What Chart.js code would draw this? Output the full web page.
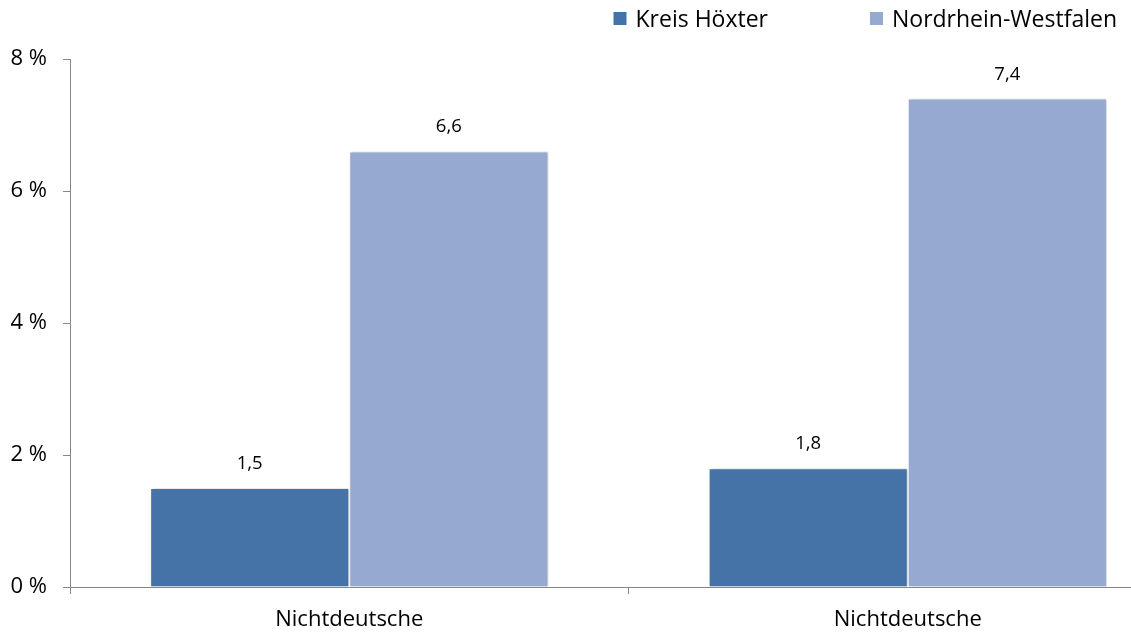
<!DOCTYPE html>
<html>
<head>
<meta charset="utf-8">
<script src="https://cdn.jsdelivr.net/npm/chart.js@4"></script>
<style>
  html, body { margin: 0; padding: 0; background: #fff; overflow: hidden; }
  #wrap { width: 1131px; height: 632px; overflow: hidden; }
</style>
</head>
<body>
<div id="wrap"><canvas id="c" width="1187" height="632"></canvas></div>
<script>
const categories = ['Nichtdeutsche', 'Nichtdeutsche'];
const seriesNames = ['Kreis Höxter', 'Nordrhein-Westfalen'];
const kreisHoexter = [1.5, 1.8];
const nrw = [6.6, 7.4];
const yTicks = [0, 2, 4, 6, 8];

const FONT = '"Open Sans"';
const colors = ['#4573a7', '#95a9d1'];

const shadowPlugin = {
  id: 'barShadow',
  beforeDatasetsDraw(chart) {
    const ctx = chart.ctx;
    ctx.save();
    ctx.shadowColor = 'rgba(0,0,0,0.22)';
    ctx.shadowBlur = 4;
    ctx.shadowOffsetX = 2;
    ctx.shadowOffsetY = 0;
  },
  afterDatasetsDraw(chart) {
    chart.ctx.restore();
  }
};

const labelPlugin = {
  id: 'valueLabels',
  afterDatasetsDraw(chart) {
    const ctx = chart.ctx;
    ctx.save();
    ctx.font = '18.5px ' + FONT;
    ctx.fillStyle = '#000';
    ctx.textAlign = 'center';
    ctx.textBaseline = 'alphabetic';
    chart.data.datasets.forEach((ds, di) => {
      const meta = chart.getDatasetMeta(di);
      meta.data.forEach((el, i) => {
        const v = ds.data[i];
        ctx.fillText(v.toFixed(1).replace('.', ','), el.x, el.y - 19);
      });
    });
    ctx.restore();
  }
};

const legendPlugin = {
  id: 'customLegend',
  afterDraw(chart) {
    const ctx = chart.ctx;
    ctx.save();
    ctx.font = '23px ' + FONT;
    ctx.textBaseline = 'alphabetic';
    ctx.textAlign = 'left';
    const box = 13, gapBox = 9, gapItem = 102, rightEdge = 1117, cy = 18.5, baseline = 27;
    const items = chart.data.datasets.map(ds => ({
      text: ds.label, color: ds.backgroundColor, w: ctx.measureText(ds.label).width
    }));
    let total = 0;
    items.forEach((it, i) => { total += box + gapBox + it.w + (i < items.length - 1 ? gapItem : 0); });
    let x = rightEdge - total;
    items.forEach(it => {
      ctx.fillStyle = it.color;
      ctx.fillRect(x, cy - box / 2, box, box);
      ctx.fillStyle = '#000';
      ctx.fillText(it.text, x + box + gapBox, baseline);
      x += box + gapBox + it.w + gapItem;
    });
    ctx.restore();
  }
};

new Chart(document.getElementById('c'), {
  type: 'bar',
  data: {
    labels: categories,
    datasets: [
      { label: seriesNames[0], data: kreisHoexter, backgroundColor: colors[0], borderColor: '#ffffff', borderWidth: 1,
        categoryPercentage: 0.713, barPercentage: 1.0 },
      { label: seriesNames[1], data: nrw, backgroundColor: colors[1], borderColor: '#ffffff', borderWidth: 1,
        categoryPercentage: 0.713, barPercentage: 1.0 }
    ]
  },
  options: {
    responsive: false,
    animation: false,
    devicePixelRatio: 1,
    layout: { padding: { top: 59, right: 0, bottom: 0, left: 0 } },
    plugins: {
      legend: { display: false },
      tooltip: { enabled: false }
    },
    scales: {
      x: {
        afterFit(scale) { scale.height = 45; },
        grid: { drawOnChartArea: false, drawTicks: true, tickLength: 7, color: '#868686', offset: true },
        border: { color: '#868686', width: 1 },
        ticks: { font: { family: 'Open Sans', size: 22 }, color: '#000', padding: 13 }
      },
      y: {
        min: 0, max: 8,
        afterBuildTicks(scale) { scale.ticks = yTicks.map(v => ({ value: v })); },
        afterFit(scale) { scale.width = 70; },
        grid: { drawOnChartArea: false, drawTicks: true, tickLength: 7, color: '#868686' },
        border: { color: '#868686', width: 1 },
        ticks: { font: { family: 'Open Sans', size: 22 }, color: '#000', padding: 16,
          callback: v => v + ' %' }
      }
    }
  },
  plugins: [shadowPlugin, labelPlugin, legendPlugin]
});
</script>
</body>
</html>
